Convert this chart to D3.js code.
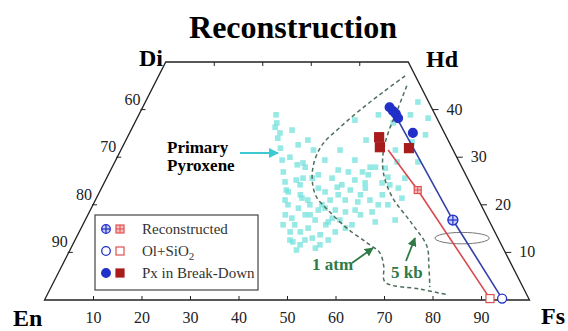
<!DOCTYPE html>
<html>
<head>
<meta charset="utf-8">
<script src="https://cdn.jsdelivr.net/npm/d3@7/dist/d3.min.js"></script>
<style>
  body { margin: 0; background: #fff; }
  svg { display: block; }
  text { font-family: "Liberation Serif", "Times New Roman", serif; }
</style>
</head>
<body>
<div id="chart"></div>
<script>
// compositions as [Fs, Wo] in mol %, En = 100 - Fs - Wo
const bottomTicks = [10, 20, 30, 40, 50, 60, 70, 80, 90];
const topTicks = [10, 20, 30, 40];
const enTicks = [60, 70, 80, 90];
const woTicks = [40, 30, 20, 10];

const primaryPyroxene = [
  [29.4, 36.3], [29.3, 37.2], [31.1, 34.0], [32.7, 31.9], [34.3, 29.4], [35.8, 26.9], [37.2, 24.8], [35.6, 30.0], [36.0, 32.6], [37.9, 28.4],
  [39.8, 27.9], [40.5, 25.6], [42.4, 25.6], [43.3, 26.3], [46.5, 25.6], [49.2, 24.2], [49.2, 26.9], [52.1, 26.9], [53.6, 26.3], [54.3, 27.9],
  [53.8, 24.6], [57.3, 24.6], [49.4, 38.9], [56.2, 41.6], [61.2, 34.7], [60.0, 38.2], [53.3, 37.2], [57.9, 25.8], [61.5, 25.6], [58.2, 29.0],
  [38.9, 28.8], [39.7, 31.5], [48.5, 23.7], [46.9, 27.3], [53.2, 27.9], [38.9, 22.7], [40.2, 20.0], [42.4, 17.2], [43.5, 14.3], [45.1, 12.2],
  [42.4, 21.4], [44.8, 17.9], [46.8, 15.1], [48.7, 13.0], [44.7, 23.5], [47.2, 20.0], [50.3, 16.4], [52.8, 14.3], [49.5, 22.1], [52.8, 18.5],
  [55.5, 15.8], [54.3, 20.6], [54.4, 23.5], [58.3, 18.5], [60.0, 16.4], [58.6, 22.1], [60.8, 20.0], [61.2, 23.5], [63.0, 21.4], [46.5, 22.7],
  [50.4, 10.9], [44.3, 12.6], [43.7, 15.8], [42.7, 19.3], [44.7, 20.0], [47.4, 16.8], [50.0, 13.7], [48.4, 21.0], [52.5, 16.8], [51.5, 23.1],
  [51.5, 21.0], [56.2, 17.9], [63.9, 16.8], [39.1, 21.0], [40.6, 24.2], [40.7, 17.9], [45.6, 14.3], [52.2, 12.6], [49.3, 29.4], [43.1, 29.4],
  [45.2, 31.5], [33.2, 35.7], [28.3, 38.9], [59.2, 33.2], [62.5, 29.0], [49.5, 33.6], [45.1, 37.8], [37.5, 33.6], [56.6, 31.5], [56.0, 38.9],
  [31.0, 35.1], [38.3, 23.1], [39.3, 25.2], [43.8, 21.0], [47.0, 18.9], [50.1, 15.8], [46.9, 11.6], [50.5, 18.9], [54.6, 18.9], [56.6, 21.0],
  [41.7, 22.1], [45.8, 17.9], [48.2, 19.3], [50.7, 17.2], [54.5, 15.1], [54.1, 22.1], [58.8, 20.0], [59.1, 24.2], [47.4, 12.6], [41.3, 15.8],
  [46.7, 10.5], [51.4, 25.2], [56.4, 27.7], [51.0, 11.6]
];

const breakdownBlue = [[50.9, 40.5], [52.0, 39.7], [52.9, 39.1], [53.8, 38.2], [58.4, 35.1]];
const breakdownRed = [[51.9, 34.2], [53.1, 32.1], [59.2, 31.9]];
const reconstructedBlue = [[75.8, 16.8]];
const reconstructedRed = [[65.4, 23.1]];
const olSiO2Blue = [[94.2, 0.3]];
const olSiO2Red = [[91.7, 0.3]];
const trendBlue = [[52.2, 39.5], [75.8, 16.8], [94.2, 0.3]];
const trendRed = [[55.1, 31.5], [65.4, 23.1], [91.7, 0.3]];

const curve1atm = [[50.8, 47.1], [48.0, 43.7], [45.1, 39.9], [42.8, 36.3], [41.0, 32.8], [41.1, 29.0], [42.6, 25.2], [45.1, 21.8],
  [49.0, 18.9], [54.8, 15.1], [60.5, 12.0], [64.2, 9.9], [66.4, 7.1], [68.3, 3.8], [76.3, 2.3], [82.6, 1.1]];
const curve5kb = [[52.2, 45.0], [52.8, 39.9], [53.3, 35.1], [54.3, 31.1], [56.4, 26.9], [60.7, 21.8], [67.8, 16.0], [73.2, 11.3],
  [75.7, 7.1], [78.1, 2.7]];

const ellipseCenter = [79.6, 13.0];
const ellipseRadius = [5.6, 1.2];

const legendLabels = ['Reconstructed', 'Ol+SiO', 'Px in Break-Down'];
const legendTypes = ['cross', 'open', 'filled'];

const width = 568;
const height = 331;

const svg = d3.select('#chart')
  .append('svg')
  .attr('width', width)
  .attr('height', height);

const defs = svg.append('defs');
[['arrowCyan', '#3cc9d2'], ['arrowGreen', '#2f7a46']].forEach(a => {
  defs.append('marker')
    .attr('id', a[0])
    .attr('viewBox', '0 0 10 10')
    .attr('refX', 9).attr('refY', 5)
    .attr('markerWidth', 5).attr('markerHeight', 5)
    .attr('orient', 'auto')
    .append('path')
    .attr('d', 'M0,0 L10,5 L0,10 z')
    .attr('fill', a[1]);
});

// bottom axis = Fs + Wo/2, vertical = Wo
const x = d3.scaleLinear().domain([0, 100]).range([44.5, 529.5]);
const y = d3.scaleLinear().domain([0, 50]).range([300, 62]);
const px = d => x(d[0] + d[1] / 2);
const py = d => y(d[1]);

// Titre
svg.append('text')
  .attr('x', 293).attr('y', 38)
  .attr('text-anchor', 'middle')
  .attr('font-size', 32).attr('font-weight', 'bold')
  .text('Reconstruction');

// cadre du quadrilatere
const frame = [[0, 0], [100, 0], [50, 50], [0, 50]];
svg.append('path')
  .attr('d', d3.line().x(px).y(py)(frame) + 'Z')
  .attr('fill', 'none')
  .attr('stroke', '#222')
  .attr('stroke-width', 1.3);

// axe du bas
const axis = svg.append('g')
  .attr('transform', 'translate(0,300)')
  .call(d3.axisBottom(x).tickValues(bottomTicks).tickSizeInner(-4).tickSizeOuter(0).tickPadding(12));
axis.select('.domain').remove();
axis.selectAll('text').attr('font-size', 16).attr('font-family', '"Liberation Serif", serif').attr('fill', '#222');
axis.selectAll('line').attr('stroke', '#222');

// ticks du haut (Di-Hd)
svg.selectAll('.top-tick')
  .data(topTicks)
  .enter().append('line')
  .attr('x1', d => px([d, 50])).attr('x2', d => px([d, 50]))
  .attr('y1', y(50)).attr('y2', y(50) + 4)
  .attr('stroke', '#222');

// ticks gauche (En)
svg.selectAll('.en-tick')
  .data(enTicks)
  .enter().append('line')
  .attr('x1', d => px([0, 100 - d]) - 1).attr('x2', d => px([0, 100 - d]) + 4)
  .attr('y1', d => py([0, 100 - d])).attr('y2', d => py([0, 100 - d]))
  .attr('stroke', '#222');
svg.selectAll('.en-label')
  .data(enTicks)
  .enter().append('text')
  .attr('x', d => px([0, 100 - d]) - 1)
  .attr('y', d => py([0, 100 - d]) - 5)
  .attr('text-anchor', 'end')
  .attr('font-size', 16).attr('fill', '#222')
  .text(d => d);

// ticks droite (Wo)
svg.selectAll('.wo-tick')
  .data(woTicks)
  .enter().append('line')
  .attr('x1', d => px([100 - d, d])).attr('x2', d => px([100 - d, d]) + 6)
  .attr('y1', d => py([100 - d, d])).attr('y2', d => py([100 - d, d]))
  .attr('stroke', '#222');
svg.selectAll('.wo-label')
  .data(woTicks)
  .enter().append('text')
  .attr('x', d => px([100 - d, d]) + 14)
  .attr('y', d => py([100 - d, d]) + 5)
  .attr('font-size', 16).attr('fill', '#222')
  .text(d => d);

// sommets
const corners = [['Di', 163, 66, 'end'], ['Hd', 426, 67, 'start'], ['En', 13, 326, 'start'], ['Fs', 541, 324, 'start']];
svg.selectAll('.corner')
  .data(corners)
  .enter().append('text')
  .attr('x', d => d[1]).attr('y', d => d[2])
  .attr('text-anchor', d => d[3])
  .attr('font-size', 24).attr('font-weight', 'bold')
  .text(d => d[0]);

// pyroxenes primaires
svg.selectAll('.primary')
  .data(primaryPyroxene)
  .enter().append('rect')
  .attr('x', d => px(d) - 2.8).attr('y', d => py(d) - 2.8)
  .attr('width', 5.6).attr('height', 5.6)
  .attr('fill', '#74e2dc')
  .attr('opacity', 0.75);

// courbes 1 atm / 5 kb
[curve1atm, curve5kb].forEach(c => {
  svg.append('path')
    .attr('d', d3.line().x(px).y(py).curve(d3.curveCatmullRom)(c))
    .attr('fill', 'none')
    .attr('stroke', '#4f6f5c')
    .attr('stroke-width', 1.5)
    .attr('stroke-dasharray', '4,3');
});

// ellipse
svg.append('ellipse')
  .attr('cx', px(ellipseCenter)).attr('cy', py(ellipseCenter))
  .attr('rx', x(ellipseRadius[0]) - x(0))
  .attr('ry', y(0) - y(ellipseRadius[1]))
  .attr('fill', '#fff')
  .attr('stroke', '#777')
  .attr('stroke-width', 1);

// lignes d'evolution
svg.append('path')
  .attr('d', d3.line().x(px).y(py)(trendRed))
  .attr('fill', 'none').attr('stroke', '#d9484c').attr('stroke-width', 1.6);
svg.append('path')
  .attr('d', d3.line().x(px).y(py)(trendBlue))
  .attr('fill', 'none').attr('stroke', '#3341a8').attr('stroke-width', 1.6);

function circleMark(g, cx, cy, type, r) {
  const blue = '#2030c8';
  g.append('circle')
    .attr('cx', cx).attr('cy', cy).attr('r', r)
    .attr('fill', type === 'filled' ? blue : (type === 'cross' ? '#c9ccf4' : '#fff'))
    .attr('stroke', blue).attr('stroke-width', 1.3);
  if (type === 'cross') {
    g.append('line').attr('x1', cx - r).attr('x2', cx + r).attr('y1', cy).attr('y2', cy).attr('stroke', blue).attr('stroke-width', 1.2);
    g.append('line').attr('x1', cx).attr('x2', cx).attr('y1', cy - r).attr('y2', cy + r).attr('stroke', blue).attr('stroke-width', 1.2);
  }
}

function squareMark(g, cx, cy, type, s) {
  const red = type === 'filled' ? '#a81c1c' : '#e0504f';
  g.append('rect')
    .attr('x', cx - s / 2).attr('y', cy - s / 2).attr('width', s).attr('height', s)
    .attr('fill', type === 'filled' ? red : (type === 'cross' ? '#f4c0c0' : '#fff'))
    .attr('stroke', red).attr('stroke-width', 1.2);
  if (type === 'cross') {
    g.append('line').attr('x1', cx - s / 2).attr('x2', cx + s / 2).attr('y1', cy).attr('y2', cy).attr('stroke', red);
    g.append('line').attr('x1', cx).attr('x2', cx).attr('y1', cy - s / 2).attr('y2', cy + s / 2).attr('stroke', red);
  }
}

const marks = svg.append('g');
olSiO2Red.forEach(d => squareMark(marks, px(d), py(d), 'open', 8));
olSiO2Blue.forEach(d => circleMark(marks, px(d), py(d), 'open', 4.5));
reconstructedRed.forEach(d => squareMark(marks, px(d), py(d), 'cross', 7));
reconstructedBlue.forEach(d => circleMark(marks, px(d), py(d), 'cross', 5));
breakdownRed.forEach(d => squareMark(marks, px(d), py(d), 'filled', 9));
breakdownBlue.forEach(d => circleMark(marks, px(d), py(d), 'filled', 4.4));

// Primary Pyroxene
svg.append('text')
  .attr('x', 167).attr('y', 153)
  .attr('font-size', 17).attr('font-weight', 'bold')
  .text('Primary');
svg.append('text')
  .attr('x', 167).attr('y', 171)
  .attr('font-size', 17).attr('font-weight', 'bold')
  .text('Pyroxene');
svg.append('line')
  .attr('x1', 240).attr('y1', 153).attr('x2', 278).attr('y2', 153)
  .attr('stroke', '#3cc9d2').attr('stroke-width', 2)
  .attr('marker-end', 'url(#arrowCyan)');

// annotations 1 atm / 5 kb
svg.append('text')
  .attr('x', 312).attr('y', 270)
  .attr('font-size', 17).attr('font-weight', 'bold').attr('fill', '#2f7a46')
  .text('1 atm');
svg.append('text')
  .attr('x', 391).attr('y', 278)
  .attr('font-size', 17).attr('font-weight', 'bold').attr('fill', '#2f7a46')
  .text('5 kb');
svg.append('line')
  .attr('x1', 352).attr('y1', 263).attr('x2', 373).attr('y2', 248)
  .attr('stroke', '#2f7a46').attr('stroke-width', 1.8)
  .attr('marker-end', 'url(#arrowGreen)');
svg.append('line')
  .attr('x1', 406).attr('y1', 261).attr('x2', 415).attr('y2', 238)
  .attr('stroke', '#2f7a46').attr('stroke-width', 1.8)
  .attr('marker-end', 'url(#arrowGreen)');

// Legende
const legend = svg.append('g');
legend.append('rect')
  .attr('x', 95).attr('y', 215).attr('width', 163).attr('height', 75)
  .attr('fill', '#fff').attr('stroke', '#444').attr('stroke-width', 1.2);

legendLabels.forEach((label, i) => {
  const ly = 234 + i * 22;
  circleMark(legend, 106, ly - 5, legendTypes[i], 4.3);
  squareMark(legend, 120, ly - 5, legendTypes[i], 8);
  const t = legend.append('text')
    .attr('x', 142).attr('y', ly)
    .attr('font-size', 15).attr('fill', '#333')
    .text(label);
  if (i === 1) {
    t.append('tspan').attr('dy', 4).attr('font-size', 11).text('2');
  }
});
</script>
</body>
</html>
